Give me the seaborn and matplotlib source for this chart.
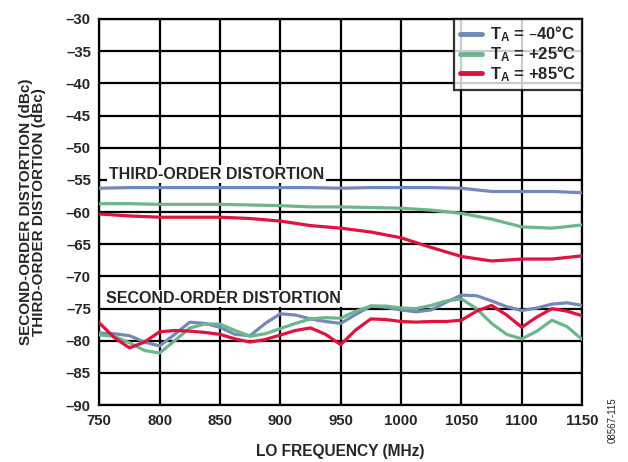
import numpy as np
import pandas as pd
import matplotlib
matplotlib.use("Agg")
import matplotlib.pyplot as plt
import seaborn as sns

# third-order distortion, 25 MHz steps
freq_third = [750, 775, 800, 825, 850, 875, 900, 925, 950, 975, 1000, 1025, 1050, 1075, 1100, 1125, 1150]
third_m40 = [-56.3, -56.2, -56.2, -56.2, -56.2, -56.2, -56.2, -56.2, -56.3, -56.2, -56.2, -56.2, -56.3, -56.8, -56.8, -56.8, -57.0]
third_p25 = [-58.7, -58.7, -58.8, -58.8, -58.8, -58.9, -59.0, -59.2, -59.2, -59.3, -59.4, -59.7, -60.2, -61.1, -62.3, -62.5, -62.0]
third_p85 = [-60.3, -60.6, -60.8, -60.8, -60.8, -61.0, -61.4, -62.1, -62.5, -63.1, -64.0, -65.5, -66.9, -67.6, -67.3, -67.3, -66.8]

# second-order distortion, 12.5 MHz steps
freq_second = [750, 762.5, 775, 787.5, 800, 812.5, 825, 837.5, 850, 862.5, 875, 887.5, 900, 912.5, 925, 937.5, 950,
               962.5, 975, 987.5, 1000, 1012.5, 1025, 1037.5, 1050, 1062.5, 1075, 1087.5, 1100, 1112.5, 1125, 1137.5, 1150]
second_m40 = [-78.8, -78.9, -79.2, -80.2, -80.8, -79.0, -77.1, -77.3, -77.9, -79.0, -79.2, -77.3, -75.8, -76.0, -76.6, -77.0, -77.3,
              -75.9, -74.6, -74.8, -75.2, -75.5, -75.2, -74.0, -72.9, -73.0, -73.8, -74.7, -75.3, -74.9, -74.3, -74.1, -74.5]
second_p25 = [-79.1, -79.3, -80.3, -81.5, -81.9, -80.0, -78.0, -77.4, -77.4, -78.4, -79.3, -78.9, -78.1, -77.3, -76.6, -76.4, -76.5,
              -75.4, -74.6, -74.6, -74.9, -75.0, -74.5, -73.8, -73.5, -75.0, -77.3, -79.0, -79.7, -78.5, -76.8, -77.8, -79.8]
second_p85 = [-77.2, -79.5, -81.1, -80.2, -78.6, -78.4, -78.5, -78.7, -79.0, -79.7, -80.2, -79.8, -79.1, -78.4, -78.0, -79.0, -80.6,
              -78.3, -76.6, -76.7, -77.0, -77.1, -77.0, -77.0, -76.8, -75.4, -74.5, -76.0, -77.9, -76.3, -75.0, -75.4, -76.1]

temp_labels = ["T$_\\mathregular{A}$ = \u201340\u00b0C", "T$_\\mathregular{A}$ = +25\u00b0C", "T$_\\mathregular{A}$ = +85\u00b0C"]
colors = ["#7289b9", "#6cb68c", "#e2113d"]

x_ticks = [750, 800, 850, 900, 950, 1000, 1050, 1100, 1150]
y_ticks = [-30, -35, -40, -45, -50, -55, -60, -65, -70, -75, -80, -85, -90]

sns.set_style("white")
plt.rcParams['font.family'] = ['Liberation Sans', 'DejaVu Sans']
plt.rcParams['font.weight'] = 'bold'
plt.rcParams['mathtext.default'] = 'regular'

fig = plt.figure(figsize=(6.28, 4.62), dpi=100)
ax = fig.add_axes([0.158, 0.123, 0.769, 0.836])

third = [third_m40, third_p25, third_p85]
second = [second_m40, second_p25, second_p85]
for i in range(3):
    sns.lineplot(x=freq_third, y=third[i], ax=ax, color=colors[i], lw=2.3, label=temp_labels[i], zorder=3)
    sns.lineplot(x=freq_second, y=second[i], ax=ax, color=colors[i], lw=2.3, zorder=3)

ax.set_xlim(750, 1150)
ax.set_ylim(-90, -30)
ax.set_xticks(x_ticks)
ax.set_yticks(y_ticks)
ax.set_yticklabels([f"\u2013{abs(v)}" for v in y_ticks])
ax.grid(True, color='black', lw=1.6)
ax.set_axisbelow(True)
for s in ax.spines.values():
    s.set_color('black')
    s.set_linewidth(1.6)
ax.tick_params(axis='both', labelsize=10.8, direction='in', length=3, width=1.2, color='black',
               top=True, right=True, pad=6)

ax.set_xlabel("LO FREQUENCY (MHz)", fontsize=11.2, fontweight='bold', labelpad=12)
ax.set_ylabel("SECOND-ORDER DISTORTION (dBc)\nTHIRD-ORDER DISTORTION (dBc)", fontsize=11,
              fontweight='bold', labelpad=14, linespacing=0.95)

bbox = dict(facecolor='white', edgecolor='none', pad=1.0)
ax.text(758, -55.3, "THIRD-ORDER DISTORTION", fontsize=11.5, fontweight='bold', ha='left', va='bottom',
        bbox=bbox, zorder=2)
ax.text(756, -74.6, "SECOND-ORDER DISTORTION", fontsize=11.5, fontweight='bold', ha='left', va='bottom',
        bbox=bbox, zorder=2)

leg = ax.legend(loc='upper right', fontsize=12, frameon=True, fancybox=False, borderaxespad=0,
                handlelength=1.3, handletextpad=0.5, labelspacing=0.0, borderpad=0.35)
leg.get_frame().set_edgecolor('black')
leg.get_frame().set_linewidth(1.6)
for t in leg.get_texts():
    t.set_fontweight('bold')
for h in leg.get_lines():
    h.set_linewidth(3.5)

fig.text(0.975, 0.09, "08567-115", rotation=90, fontsize=7, fontweight='normal', ha='center', va='center')

fig.savefig("out.png", dpi=100)
